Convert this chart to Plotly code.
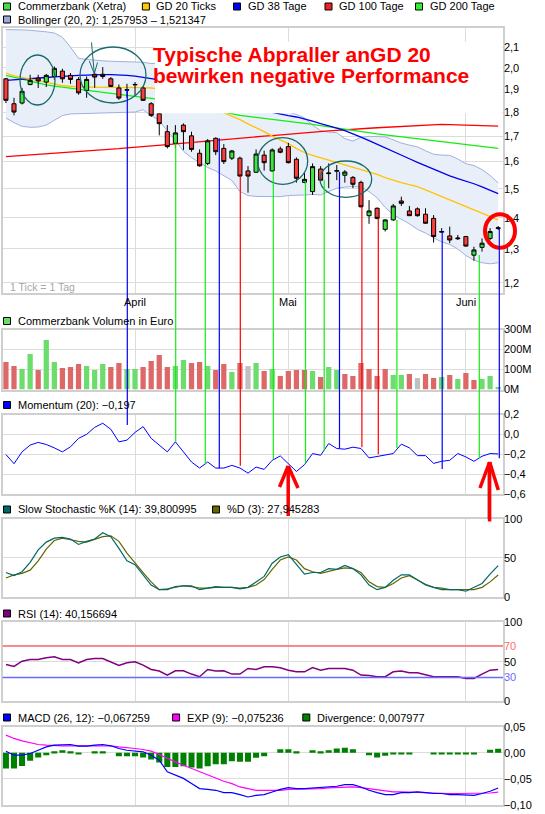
import pandas as pd
import plotly.graph_objects as go

W, H = 545, 814

# trading days (Xetra), 2012-03-09 .. 2012-06-07
holidays = ["2012-04-06", "2012-04-09", "2012-05-01"]
dates = [d.strftime("%Y-%m-%d") for d in pd.bdate_range("2012-03-09", "2012-06-07")
         if d.strftime("%Y-%m-%d") not in holidays]
month_ticks = ["2012-04-02", "2012-05-02", "2012-06-01"]
month_labels = ["April", "Mai", "Juni"]

open_p = [1.948, 1.836, 1.839, 1.922, 1.951, 1.933, 1.959, 1.984, 1.964, 1.945,
          1.895, 1.969, 1.969, 1.948, 1.906, 1.896, 1.920, 1.906, 1.836, 1.793,
          1.718, 1.671, 1.745, 1.701, 1.632, 1.593, 1.691, 1.651, 1.613, 1.613,
          1.565, 1.560, 1.625, 1.565, 1.649, 1.658, 1.609, 1.523, 1.490, 1.572,
          1.555, 1.564, 1.549, 1.541, 1.523, 1.407, 1.432, 1.362, 1.393, 1.457,
          1.423, 1.430, 1.412, 1.398, 1.353, 1.341, 1.332, 1.339, 1.281, 1.305,
          1.333, 1.365]
high_p = [1.952, 1.862, 1.906, 1.967, 1.967, 1.971, 2.006, 1.995, 1.975, 1.956,
          1.959, 1.975, 2.003, 1.956, 1.922, 1.925, 1.933, 1.913, 1.843, 1.800,
          1.745, 1.745, 1.752, 1.718, 1.647, 1.688, 1.695, 1.668, 1.645, 1.619,
          1.583, 1.647, 1.642, 1.651, 1.658, 1.673, 1.616, 1.562, 1.593, 1.583,
          1.593, 1.587, 1.568, 1.546, 1.529, 1.460, 1.435, 1.395, 1.447, 1.472,
          1.440, 1.435, 1.432, 1.409, 1.366, 1.371, 1.344, 1.341, 1.307, 1.333,
          1.366, 1.373]
low_p = [1.839, 1.786, 1.833, 1.918, 1.906, 1.910, 1.944, 1.930, 1.925, 1.876,
         1.862, 1.907, 1.948, 1.910, 1.853, 1.862, 1.873, 1.848, 1.779, 1.703,
         1.651, 1.651, 1.645, 1.638, 1.581, 1.587, 1.625, 1.591, 1.606, 1.544,
         1.486, 1.558, 1.566, 1.562, 1.632, 1.593, 1.522, 1.520, 1.478, 1.525,
         1.502, 1.531, 1.522, 1.502, 1.435, 1.380, 1.395, 1.355, 1.390, 1.440,
         1.406, 1.404, 1.380, 1.320, 1.351, 1.318, 1.328, 1.307, 1.264, 1.292,
         1.328, 1.360]
close_p = [1.851, 1.800, 1.891, 1.941, 1.938, 1.964, 1.997, 1.948, 1.945, 1.884,
           1.945, 1.956, 1.959, 1.913, 1.861, 1.898, 1.922, 1.851, 1.786, 1.751,
           1.658, 1.713, 1.718, 1.647, 1.584, 1.681, 1.638, 1.600, 1.641, 1.546,
           1.546, 1.629, 1.596, 1.645, 1.636, 1.596, 1.538, 1.534, 1.581, 1.531,
           1.557, 1.566, 1.561, 1.516, 1.437, 1.423, 1.398, 1.393, 1.440, 1.449,
           1.407, 1.407, 1.382, 1.339, 1.355, 1.328, 1.334, 1.309, 1.297, 1.318,
           1.355, 1.367]

gd20 = [1.975, 1.962, 1.955, 1.948, 1.940, 1.933, 1.925, 1.916, 1.912, 1.911,
        1.910, 1.910, 1.910, 1.910, 1.910, 1.910, 1.909, 1.908, 1.906, 1.900,
        1.890, 1.878, 1.866, 1.853, 1.840, 1.826, 1.812, 1.797, 1.782, 1.768,
        1.750, 1.735, 1.718, 1.700, 1.685, 1.670, 1.650, 1.635, 1.624, 1.615,
        1.605, 1.596, 1.588, 1.580, 1.570, 1.562, 1.552, 1.540, 1.530, 1.522,
        1.515, 1.508, 1.496, 1.484, 1.472, 1.462, 1.450, 1.438, 1.426, 1.414,
        1.403, 1.393]
gd38 = [1.941, 1.943, 1.945, 1.948, 1.951, 1.954, 1.957, 1.960, 1.962, 1.964,
        1.965, 1.967, 1.967, 1.967, 1.966, 1.964, 1.960, 1.955, 1.950, 1.944,
        1.937, 1.929, 1.920, 1.910, 1.900, 1.890, 1.878, 1.866, 1.854, 1.842,
        1.830, 1.818, 1.808, 1.799, 1.791, 1.785, 1.779, 1.772, 1.762, 1.751,
        1.743, 1.733, 1.722, 1.710, 1.696, 1.682, 1.668, 1.655, 1.641, 1.625,
        1.611, 1.597, 1.584, 1.570, 1.557, 1.547, 1.537, 1.528, 1.518, 1.507,
        1.495, 1.483]
gd100 = [1.619, 1.621, 1.623, 1.625, 1.627, 1.629, 1.631, 1.633, 1.635, 1.637,
         1.639, 1.641, 1.644, 1.647, 1.650, 1.653, 1.655, 1.658, 1.661, 1.664,
         1.666, 1.669, 1.672, 1.675, 1.678, 1.681, 1.684, 1.687, 1.689, 1.692,
         1.695, 1.697, 1.700, 1.702, 1.705, 1.708, 1.711, 1.713, 1.716, 1.718,
         1.721, 1.723, 1.726, 1.728, 1.730, 1.732, 1.734, 1.736, 1.738, 1.740,
         1.741, 1.743, 1.746, 1.748, 1.748, 1.747, 1.746, 1.745, 1.744, 1.743,
         1.742, 1.741]
gd200 = [1.964, 1.955, 1.945, 1.935, 1.927, 1.920, 1.914, 1.909, 1.904, 1.899,
         1.894, 1.889, 1.885, 1.881, 1.877, 1.873, 1.869, 1.865, 1.861, 1.855,
         1.848, 1.841, 1.834, 1.826, 1.819, 1.812, 1.805, 1.798, 1.791, 1.786,
         1.782, 1.778, 1.774, 1.770, 1.767, 1.763, 1.758, 1.753, 1.748, 1.743,
         1.738, 1.732, 1.726, 1.721, 1.717, 1.713, 1.709, 1.705, 1.701, 1.697,
         1.692, 1.688, 1.684, 1.680, 1.677, 1.673, 1.669, 1.666, 1.662, 1.658,
         1.655, 1.651]
bb_upper = [2.190, 2.190, 2.188, 2.186, 2.183, 2.178, 2.172, 2.150, 2.100, 2.045,
            2.040, 2.035, 2.033, 2.031, 2.030, 2.029, 2.028, 2.026, 2.020, 2.020,
            2.015, 2.010, 2.000, 1.990, 1.975, 1.960, 1.945, 1.930, 1.910, 1.890,
            1.870, 1.855, 1.840, 1.825, 1.810, 1.800, 1.790, 1.775, 1.745, 1.722,
            1.716, 1.714, 1.690, 1.680, 1.695, 1.699, 1.698, 1.697, 1.685, 1.672,
            1.664, 1.657, 1.642, 1.628, 1.625, 1.624, 1.610, 1.592, 1.585, 1.570,
            1.548, 1.521]
bb_lower = [1.775, 1.755, 1.740, 1.736, 1.737, 1.745, 1.765, 1.785, 1.792, 1.793,
            1.794, 1.794, 1.794, 1.795, 1.797, 1.798, 1.800, 1.810, 1.785, 1.765,
            1.720, 1.685, 1.640, 1.615, 1.595, 1.578, 1.565, 1.548, 1.530, 1.490,
            1.476, 1.473, 1.472, 1.472, 1.472, 1.476, 1.476, 1.478, 1.480, 1.478,
            1.490, 1.502, 1.506, 1.508, 1.506, 1.490, 1.468, 1.435, 1.410, 1.395,
            1.380, 1.362, 1.350, 1.335, 1.322, 1.314, 1.300, 1.280, 1.266, 1.258,
            1.255, 1.258]

# volume in million euro, colour flag: u = up, d = down, n = unchanged
volume_m = [138, 117, 102, 177, 97, 247, 137, 107, 112, 127,
            117, 97, 127, 112, 132, 102, 102, 112, 142, 172,
            112, 117, 147, 132, 137, 117, 97, 127, 87, 132,
            117, 132, 92, 102, 67, 92, 97, 97, 92, 62,
            112, 97, 77, 67, 132, 102, 67, 102, 72, 72,
            77, 57, 77, 57, 62, 72, 52, 82, 47, 52,
            67, 12]
vol_dir = ["d", "d", "u", "u", "d", "u", "u", "d", "d", "d",
           "u", "u", "u", "d", "d", "u", "u", "d", "d", "d",
           "d", "u", "u", "d", "d", "u", "d", "d", "u", "d",
           "n", "u", "d", "u", "d", "d", "d", "d", "u", "d",
           "u", "u", "d", "d", "d", "d", "d", "d", "u", "u",
           "d", "n", "d", "d", "u", "d", "u", "d", "d", "u",
           "u", "u"]

momentum = [-0.203, -0.295, -0.176, -0.108, -0.081, -0.102, -0.136, -0.176, -0.125, -0.040,
            0.000, 0.071, 0.112, 0.051, -0.075, -0.058, 0.020, 0.078, -0.040, -0.108,
            -0.176, -0.075, -0.176, -0.278, -0.339, -0.278, -0.339, -0.339, -0.312, -0.339,
            -0.390, -0.329, -0.352, -0.261, -0.217, -0.295, -0.373, -0.305, -0.193, -0.210,
            -0.092, -0.142, -0.149, -0.129, -0.142, -0.237, -0.220, -0.203, -0.193, -0.098,
            -0.136, -0.214, -0.214, -0.292, -0.271, -0.261, -0.193, -0.227, -0.271, -0.220,
            -0.193, -0.197]
stoch_k = [31, 27, 32, 44, 60, 70, 75, 76, 74, 67,
           71, 74, 82, 77, 62, 46, 41, 28, 15, 9,
           9, 13, 14, 14, 9, 11, 13, 12, 12, 10,
           12, 19, 26, 43, 51, 54, 41, 29, 31, 31,
           36, 35, 40, 36, 28, 15, 9, 12, 21, 28,
           28, 21, 15, 12, 9, 9, 9, 7, 12, 17,
           29, 39.8]
stoch_d = [24, 28, 30, 34, 46, 61, 72, 75, 73, 71,
           70, 73, 77, 78, 71, 56, 43, 31, 19, 9,
           10, 12, 14, 13, 11, 11, 12, 12, 12, 11,
           12, 15, 22, 35, 47, 51, 47, 36, 32, 30,
           33, 35, 37, 36, 31, 19, 13, 12, 17, 24,
           27, 21, 16, 12, 11, 9, 9, 9, 9, 12,
           19, 27.9]
rsi = [46.4, 43.9, 50.6, 52.7, 52.7, 54.9, 56.1, 52.7, 52.7, 48.5,
       52.7, 54.0, 54.0, 49.8, 45.1, 48.5, 49.8, 45.6, 40.1, 38.0,
       32.9, 38.4, 38.4, 34.2, 30.8, 40.1, 38.0, 38.4, 34.2, 34.2,
       41.4, 40.1, 43.5, 43.5, 42.2, 39.2, 37.1, 37.1, 42.6, 39.2,
       41.4, 41.4, 41.4, 39.2, 32.9, 32.5, 30.8, 30.8, 37.1, 38.0,
       35.9, 35.9, 32.9, 30.8, 30.8, 30.8, 30.8, 28.7, 28.7, 34.2,
       39.2, 40.16]
rsi_levels = [70, 30]
macd = [0.003, -0.0045, -0.0045, -0.0013, 0.005, 0.0115, 0.0147, 0.016, 0.016, 0.0128,
        0.0128, 0.0147, 0.016, 0.0135, 0.0083, 0.005, 0.003, 0.002, -0.0045, -0.014,
        -0.0365, -0.043, -0.049, -0.059, -0.0686, -0.070, -0.0718, -0.0763, -0.0763, -0.080,
        -0.0846, -0.0814, -0.080, -0.075, -0.070, -0.0667, -0.0686, -0.0686, -0.0673, -0.0673,
        -0.0654, -0.0641, -0.061, -0.061, -0.0654, -0.0718, -0.0763, -0.080, -0.080, -0.0763,
        -0.0763, -0.075, -0.0763, -0.078, -0.078, -0.080, -0.080, -0.080, -0.0814, -0.078,
        -0.0737, -0.0673]
macd_exp = [0.034, 0.0276, 0.023, 0.0192, 0.016, 0.0147, 0.0135, 0.0135, 0.0135, 0.0135,
            0.0135, 0.0147, 0.0147, 0.0135, 0.0115, 0.0103, 0.0083, 0.0064, 0.0032, -0.0032,
            -0.0109, -0.0173, -0.0237, -0.030, -0.0353, -0.043, -0.048, -0.0545, -0.059, -0.0654,
            -0.0686, -0.0718, -0.0718, -0.0718, -0.0718, -0.070, -0.070, -0.0686, -0.0686, -0.0686,
            -0.0673, -0.0667, -0.0654, -0.0654, -0.0667, -0.0686, -0.0718, -0.0737, -0.075, -0.075,
            -0.075, -0.0763, -0.0763, -0.077, -0.078, -0.078, -0.078, -0.078, -0.078, -0.078,
            -0.077, -0.0752]
macd_div = [-0.030, -0.030, -0.025, -0.0154, -0.009, -0.0045, 0.003, 0.005, 0.003, -0.0026,
            0.0, 0.003, 0.003, 0.0, -0.0064, -0.0064, -0.0064, -0.009, -0.0128, -0.0186,
            -0.027, -0.027, -0.0256, -0.028, -0.030, -0.0256, -0.0218, -0.0218, -0.016, -0.0173,
            -0.0173, -0.0096, -0.0064, 0.0, 0.007, 0.007, 0.003, 0.0, 0.005, 0.003,
            0.005, 0.0083, 0.0096, 0.007, 0.0, -0.0045, -0.009, -0.0058, -0.0026, -0.0026,
            -0.0026, 0.0, 0.0, -0.0026, -0.0026, -0.0026, -0.0026, -0.0026, -0.0026, 0.0,
            0.006, 0.008]

FONT = "Liberation Sans, Arial, sans-serif"
GRID = "#dcdcdc"
BORDER = "#cfcfcf"


def px(x):
    return x / W


def py(y):
    return 1 - y / H


fig = go.Figure()

# price panel: bands and averages on y, candles on the overlaying y7 so they sit on top
fig.add_trace(go.Scatter(x=dates, y=bb_upper, mode="lines", line=dict(color="#9fb0dc", width=1),
                         xaxis="x", yaxis="y"))
fig.add_trace(go.Scatter(x=dates, y=bb_lower, mode="lines", line=dict(color="#9fb0dc", width=1),
                         fill="tonexty", fillcolor="#e9eff9", xaxis="x", yaxis="y"))
fig.add_trace(go.Scatter(x=dates, y=gd100, mode="lines", line=dict(color="#ff0000", width=1.3),
                         xaxis="x", yaxis="y"))
fig.add_trace(go.Scatter(x=dates, y=gd200, mode="lines", line=dict(color="#11ee11", width=1.3),
                         xaxis="x", yaxis="y"))
fig.add_trace(go.Scatter(x=dates, y=gd38, mode="lines", line=dict(color="#0000ee", width=1.3),
                         xaxis="x", yaxis="y"))
fig.add_trace(go.Scatter(x=dates, y=gd20, mode="lines", line=dict(color="#ffc400", width=1.3),
                         xaxis="x", yaxis="y"))
fig.add_trace(go.Candlestick(
    x=dates, open=open_p, high=high_p, low=low_p, close=close_p, whiskerwidth=0,
    increasing=dict(fillcolor="#3ce63c", line=dict(color="black", width=1)),
    decreasing=dict(fillcolor="#ff3c3c", line=dict(color="black", width=1)),
    xaxis="x", yaxis="y7"))

# volume
vol_colors = {"u": "#6cdc6c", "d": "#dc6868", "n": "#c0c0c0"}
fig.add_trace(go.Bar(x=dates, y=[v * 1e6 for v in volume_m], width=0.65,
                     marker=dict(color=[vol_colors[c] for c in vol_dir], line=dict(width=0)),
                     xaxis="x2", yaxis="y2"))

# momentum
fig.add_trace(go.Scatter(x=dates, y=momentum, mode="lines", line=dict(color="#0000ff", width=1),
                         xaxis="x3", yaxis="y3"))

# slow stochastic
fig.add_trace(go.Scatter(x=dates, y=stoch_d, mode="lines", line=dict(color="#666600", width=1.2),
                         xaxis="x4", yaxis="y4"))
fig.add_trace(go.Scatter(x=dates, y=stoch_k, mode="lines", line=dict(color="#006868", width=1.2),
                         xaxis="x4", yaxis="y4"))

# rsi
fig.add_trace(go.Scatter(x=dates, y=rsi, mode="lines", line=dict(color="#800080", width=1.5),
                         xaxis="x5", yaxis="y5"))

# macd
fig.add_trace(go.Bar(x=dates, y=macd_div, width=0.75, marker=dict(color="#008000", line=dict(width=0)),
                     xaxis="x6", yaxis="y6"))
fig.add_trace(go.Scatter(x=dates, y=macd_exp, mode="lines", line=dict(color="#ff00ff", width=1.2),
                         xaxis="x6", yaxis="y6"))
fig.add_trace(go.Scatter(x=dates, y=macd, mode="lines", line=dict(color="#0000ff", width=1.2),
                         xaxis="x6", yaxis="y6"))

# panel positions in pixels (top, bottom)
panels = [(28, 293.3), (329.5, 389.5), (414.5, 494), (518.7, 596.7), (622.3, 701), (726.5, 805)]
x_dom = [px(2.7), px(503)]
price_range = [0.06819, 0.34203]

y_specs = [
    dict(type="log", range=price_range,
         tickvals=[1.2, 1.3, 1.4, 1.5, 1.6, 1.7, 1.8, 1.9, 2.0, 2.1],
         ticktext=["1,2", "1,3", "1,4", "1,5", "1,6", "1,7", "1,8", "1,9", "2,0", "2,1"]),
    dict(range=[0, 300e6], tickvals=[0, 100e6, 200e6, 300e6],
         ticktext=["0M", "100M", "200M", "300M"]),
    dict(range=[-0.6, 0.2], tickvals=[-0.6, -0.4, -0.2, 0.0, 0.2],
         ticktext=["\u22120,6", "\u22120,4", "\u22120,2", "0,0", "0,2"]),
    dict(range=[0, 100], tickvals=[0, 50, 100], ticktext=["0", "50", "100"]),
    dict(range=[0, 100], tickvals=[0, 30, 50, 70, 100],
         ticktext=["0", "<span style='color:#6a6aff'>30</span>", "50",
                   "<span style='color:#ff6a6a'>70</span>", "100"]),
    dict(range=[-0.10, 0.0505], tickvals=[-0.10, -0.05, 0.0, 0.05],
         ticktext=["\u22120,10", "\u22120,05", "0,00", "0,05"]),
]

layout = dict(width=W, height=H, margin=dict(l=0, r=0, t=0, b=0, autoexpand=False),
              paper_bgcolor="white", plot_bgcolor="white", showlegend=False,
              font=dict(family=FONT, size=11, color="black"), boxgap=0.28)

for k, ((top, bottom), spec) in enumerate(zip(panels, y_specs), start=1):
    sfx = "" if k == 1 else str(k)
    layout["xaxis" + sfx] = dict(
        type="category", range=[-0.4, 61.6], domain=x_dom, anchor="y" + sfx,
        tickvals=month_ticks, showticklabels=False, ticks="",
        showgrid=True, gridcolor=GRID, gridwidth=1, zeroline=False,
        showline=True, mirror=True, linecolor=BORDER, linewidth=1.5,
        rangeslider=dict(visible=False), automargin=False)
    layout["yaxis" + sfx] = dict(
        domain=[py(bottom), py(top)], anchor="x" + sfx, side="right", ticks="",
        showgrid=True, gridcolor=GRID, gridwidth=1, zeroline=False,
        showline=True, mirror=True, linecolor=BORDER, linewidth=1.5,
        tickfont=dict(size=11), ticklabelstandoff=-3, automargin=False, **spec)
layout["yaxis7"] = dict(type="log", range=price_range, overlaying="y", anchor="x",
                        side="right", visible=False, showgrid=False, zeroline=False,
                        automargin=False)
fig.update_layout(**layout)

shapes = []
# rsi 70 / 30 lines
for lvl, col in zip(rsi_levels, ["#ff6a6a", "#6a6aff"]):
    shapes.append(dict(type="line", xref="paper", yref="y5", x0=x_dom[0], x1=x_dom[1],
                       y0=lvl, y1=lvl, line=dict(color=col, width=1.5)))

# white box behind the comment text
shapes.append(dict(type="rect", xref="paper", yref="paper", x0=px(155), x1=px(502),
                   y0=py(113.3), y1=py(41.7), fillcolor="white", line=dict(width=0), layer="above"))

# hand-drawn circles
for x0, y0, x1, y1 in [(20, 55, 55, 105), (80, 47, 146, 103),
                       (257.7, 137.7, 307.7, 184.3), (320, 161, 371.7, 197.3)]:
    shapes.append(dict(type="circle", xref="paper", yref="paper", x0=px(x0), x1=px(x1),
                       y0=py(y1), y1=py(y0), line=dict(color="#1b6a6a", width=1.3), layer="above"))
shapes.append(dict(type="circle", xref="paper", yref="paper", x0=px(485), x1=px(515),
                   y0=py(247.7), y1=py(214.3), line=dict(color="#ff0000", width=4), layer="above"))

# small arrow in second circle
for x0, y0, x1, y1 in [(91.5, 42.5, 94.3, 73.7), (89.3, 61, 94.3, 73.7), (97.5, 62.5, 94.3, 73.7)]:
    shapes.append(dict(type="line", xref="paper", yref="paper", x0=px(x0), y0=py(y0),
                       x1=px(x1), y1=py(y1), line=dict(color="#1b6a6a", width=1), layer="above"))

# guide lines from the candles down to the momentum line
guide_lines = [
    (127.3, 89.7, 425.0, "#0000ff"), (175.7, 143.3, 441.7, "#11ee11"),
    (205.3, 163.3, 464.3, "#11ee11"), (219.3, 138.3, 468.3, "#0000ff"),
    (240.3, 176.7, 465.7, "#ff0000"), (273.3, 171.0, 459.3, "#11ee11"),
    (305.5, 181.7, 463.3, "#11ee11"), (324.2, 180.0, 451.0, "#11ee11"),
    (339.5, 171.7, 448.3, "#0000ff"), (361.9, 206.7, 447.3, "#ff0000"),
    (378.3, 218.3, 454.3, "#ff0000"), (396.9, 220.0, 448.3, "#11ee11"),
    (442.2, 232.0, 469.0, "#0000ff"), (479.3, 255.0, 457.7, "#11ee11"),
    (499.3, 228.3, 458.3, "#0000ff"),
]
for x, y0, y1, col in guide_lines:
    shapes.append(dict(type="line", xref="paper", yref="paper", x0=px(x), x1=px(x),
                       y0=py(y0), y1=py(y1), line=dict(color=col, width=1.2), layer="above"))

# red arrows
shapes.append(dict(type="line", xref="paper", yref="paper", x0=px(488.3), x1=px(488.3),
                   y0=py(463), y1=py(519), line=dict(color="#0b4f4f", width=1.2), layer="above"))
for tip, base, wl, wr in [((288.2, 466), 516, (279.5, 487), (298, 488)),
                          ((489.6, 462), 521.5, (480, 488), (498.3, 490))]:
    for a, b in [((tip[0], base), tip), (wl, tip), (wr, tip)]:
        shapes.append(dict(type="line", xref="paper", yref="paper", x0=px(a[0]), y0=py(a[1]),
                           x1=px(b[0]), y1=py(b[1]), line=dict(color="#ff0000", width=3.5),
                           layer="above"))

annotations = []
legend_rows = [
    (6.5, [(3.5, "#44dd44", "Commerzbank (Xetra)"), (142.4, "#ffcc00", "GD 20 Ticks"),
           (233.5, "#0000ee", "GD 38 Tage"), (325, "#ee2222", "GD 100 Tage"),
           (415.5, "#33ee33", "GD 200 Tage")]),
    (19.5, [(3.5, "#99aad6", "Bollinger (20, 2): 1,257953 \u2013 1,521347")]),
    (321, [(3.5, "#66dd66", "Commerzbank Volumen in Euro")]),
    (405, [(3.5, "#0000ff", "Momentum (20): \u22120,197")]),
    (509.5, [(3.5, "#006666", "Slow Stochastic %K (14): 39,800995"),
             (212.5, "#666600", "%D (3): 27,945283")]),
    (613.5, [(3.5, "#800080", "RSI (14): 40,156694")]),
    (717.5, [(3.5, "#0000ff", "MACD (26, 12): \u22120,067259"),
             (172.6, "#ff00ff", "EXP (9): \u22120,075236"),
             (302.8, "#008000", "Divergence: 0,007977")]),
]
for yc, items in legend_rows:
    for sx, col, txt in items:
        shapes.append(dict(type="rect", xref="paper", yref="paper", x0=px(sx), x1=px(sx + 7),
                           y0=py(yc + 3.5), y1=py(yc - 3.5), fillcolor=col,
                           line=dict(color="black", width=1)))
        annotations.append(dict(x=px(sx + 12), y=py(yc), xref="paper", yref="paper", text=txt,
                                showarrow=False, xanchor="left", yanchor="middle",
                                font=dict(size=11, color="black")))

# month labels under the price panel
for tv, lab in zip(month_ticks, month_labels):
    annotations.append(dict(x=tv, y=py(302), xref="x", yref="paper", text=lab,
                            showarrow=False, xanchor="center", yanchor="middle",
                            font=dict(size=11, color="black")))

annotations.append(dict(x=px(8), y=py(287), xref="paper", yref="paper", text="1 Tick = 1 Tag",
                        showarrow=False, xanchor="left", yanchor="middle",
                        font=dict(size=10.5, color="#a8a8a8")))
for txt, yc in [("Typische Abpraller anGD 20", 55), ("bewirken negative Performance", 75.5)]:
    annotations.append(dict(x=px(151), y=py(yc), xref="paper", yref="paper",
                            text="<b>" + txt + "</b>", showarrow=False,
                            xanchor="left", yanchor="middle",
                            font=dict(size=21, color="#ff0000")))

fig.update_layout(shapes=shapes, annotations=annotations)
# the page's default 8px body margin would shift the 545x814 figure off the window
fig.write_html("out.html", config={"displayModeBar": False},
               post_script="document.body.style.margin = '0';")
